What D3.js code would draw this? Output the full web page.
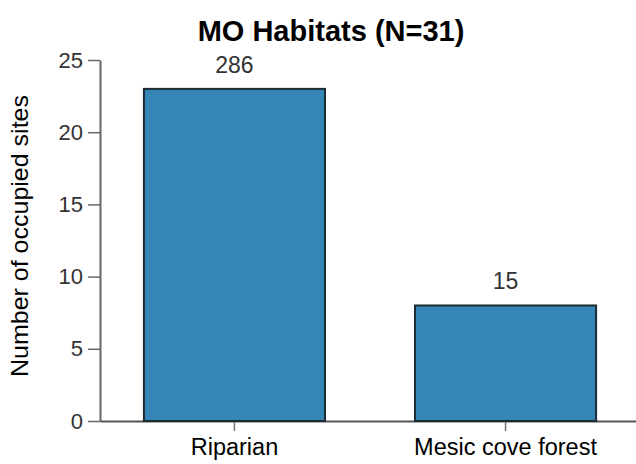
<!DOCTYPE html>
<html>
<head>
<meta charset="utf-8">
<script src="https://cdn.jsdelivr.net/npm/d3@7"></script>
<style>
  body{margin:0;background:#fff;}
  text{font-family:"Liberation Sans",Arial,sans-serif;}
</style>
</head>
<body>
<div class="chart"></div>
<script>
var habitats=["Riparian","Mesic cove forest"];
var sites=[23,8];
var barLabels=["286","15"];
var yTicks=[0,5,10,15,20,25];

var svg=d3.select(".chart").append("svg")
  .attr("width",636)
  .attr("height",464);

var x=d3.scaleBand()
  .domain(habitats)
  .range([100,640])
  .paddingInner(0.332)
  .paddingOuter(0.162);

var y=d3.scaleLinear()
  .domain([0,25])
  .range([421,60]);

svg.append("text")
  .attr("x",331)
  .attr("y",41)
  .attr("text-anchor","middle")
  .attr("font-size","29px")
  .attr("font-weight","bold")
  .text("MO Habitats (N=31)");

// y axis
var yAxis=svg.append("g")
  .attr("transform","translate(100,0)")
  .call(d3.axisLeft(y).tickValues(yTicks).tickSize(12).tickSizeOuter(0).tickPadding(5));
yAxis.select(".domain").attr("stroke","#666").attr("stroke-width",2);
yAxis.selectAll(".tick line").attr("stroke","#666").attr("stroke-width",1.5);
yAxis.selectAll(".tick text").attr("fill","#333").attr("font-size","22px")
  .attr("font-family","'Liberation Sans',Arial,sans-serif");

// x axis
var xAxis=svg.append("g")
  .attr("transform","translate(0,421)")
  .call(d3.axisBottom(x).tickSize(10).tickSizeOuter(0).tickPadding(7));
xAxis.select(".domain").attr("stroke","#555").attr("stroke-width",2);
xAxis.selectAll(".tick line").attr("stroke","#777").attr("stroke-width",1.5);
xAxis.selectAll(".tick text").attr("fill","#000").attr("font-size","23.5px")
  .attr("font-family","'Liberation Sans',Arial,sans-serif");

svg.append("text")
  .attr("transform","translate(28,236) rotate(-90)")
  .attr("text-anchor","middle")
  .attr("font-size","24px")
  .attr("textLength",282)
  .attr("lengthAdjust","spacingAndGlyphs")
  .text("Number of occupied sites");

var bars=svg.selectAll(".bar")
  .data(habitats)
  .enter()
  .append("g")
  .attr("class","bar");

bars.append("rect")
  .attr("x",function(d){return x(d)})
  .attr("y",function(d,i){return y(sites[i])})
  .attr("width",x.bandwidth())
  .attr("height",function(d,i){return y(0)-y(sites[i])})
  .attr("fill","#3586b6")
  .attr("stroke","#1d2b35")
  .attr("stroke-width",2);

bars.append("text")
  .attr("x",function(d){return x(d)+x.bandwidth()/2})
  .attr("y",function(d,i){return y(sites[i])-16})
  .attr("text-anchor","middle")
  .attr("font-size","23px")
  .attr("fill","#333")
  .text(function(d,i){return barLabels[i]});
</script>
</body>
</html>
